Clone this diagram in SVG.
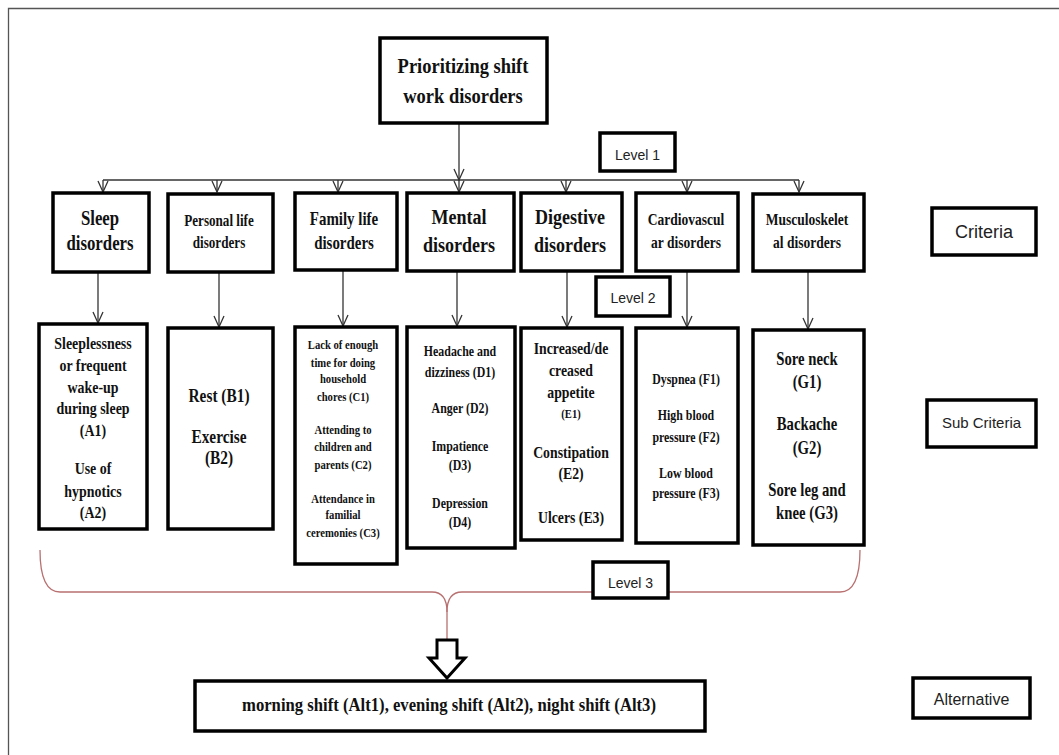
<svg xmlns="http://www.w3.org/2000/svg" width="1059" height="755" viewBox="0 0 1059 755">
<style>
.box{fill:#fff;stroke:#000;stroke-width:3.5}
.lbl{fill:#fff;stroke:#000;stroke-width:3.5}
.con{fill:none;stroke:#333;stroke-width:1.3}
.brace{fill:none;stroke:#b87070;stroke-width:1.3}
.t{font-family:"Liberation Serif","Times New Roman",serif;font-weight:bold;text-anchor:middle;fill:#111}
.s{font-family:"Liberation Sans",Arial,sans-serif;text-anchor:middle;fill:#222}
</style>
<defs>
<marker id="v" markerUnits="userSpaceOnUse" markerWidth="14" markerHeight="14" viewBox="-12 -7 14 14" refX="0" refY="0" orient="auto">
<path d="M-11,-5 L0,0 L-11,5" fill="none" stroke="#333" stroke-width="1.3"/>
</marker>
</defs>
<rect width="1059" height="755" fill="#fff"/>
<path d="M8.5,755 V8.5 H1059" fill="none" stroke="#555" stroke-width="1.3"/>

<g id="connectors">
<line class="con" x1="459" y1="123" x2="459" y2="180" marker-end="url(#v)"/>
<line class="con" x1="103" y1="180" x2="799" y2="180"/>
<line class="con" x1="103" y1="180" x2="103" y2="192" marker-end="url(#v)"/>
<line class="con" x1="217" y1="180" x2="217" y2="192" marker-end="url(#v)"/>
<line class="con" x1="338" y1="180" x2="338" y2="192" marker-end="url(#v)"/>
<line class="con" x1="459" y1="180" x2="459" y2="192" marker-end="url(#v)"/>
<line class="con" x1="566" y1="180" x2="566" y2="192" marker-end="url(#v)"/>
<line class="con" x1="687" y1="180" x2="687" y2="192" marker-end="url(#v)"/>
<line class="con" x1="799" y1="180" x2="799" y2="192" marker-end="url(#v)"/>
<line class="con" x1="98" y1="272" x2="98" y2="323" marker-end="url(#v)"/>
<line class="con" x1="219" y1="272" x2="219" y2="327" marker-end="url(#v)"/>
<line class="con" x1="343" y1="271" x2="343" y2="326" marker-end="url(#v)"/>
<line class="con" x1="457" y1="271" x2="457" y2="326" marker-end="url(#v)"/>
<line class="con" x1="567" y1="271" x2="567" y2="327" marker-end="url(#v)"/>
<line class="con" x1="687" y1="271" x2="687" y2="327" marker-end="url(#v)"/>
<line class="con" x1="808" y1="271" x2="808" y2="329" marker-end="url(#v)"/>
<path class="brace" d="M40,550 Q40,592 60,592 H432 Q447,592 447,612 V642"/>
<path class="brace" d="M860,550 Q860,592 840,592 H462 Q447,592 447,612"/>
<polygon points="437,640 457,640 457,658 465,658 447,678 429,658 437,658" fill="#fff" stroke="#000" stroke-width="3"/>
</g>

<g id="goal">
<rect class="box" x="380" y="38" width="167" height="85"/>
<g transform="translate(463 0) scale(0.88 1)">
<text class="t" x="0" y="73" font-size="21">Prioritizing shift</text>
<text class="t" x="0" y="103" font-size="21">work disorders</text>
</g>
</g>

<g id="level1"><rect class="lbl" x="600" y="133" width="75" height="38"/><text class="s" x="637.5" y="160" font-size="14">Level 1</text></g>
<g id="level2"><rect class="lbl" x="596" y="277" width="74" height="39"/><text class="s" x="633" y="303" font-size="14">Level 2</text></g>
<g id="criteria-label"><rect class="lbl" x="932" y="208" width="104" height="47"/><text class="s" x="984" y="238" font-size="18">Criteria</text></g>
<g id="subcriteria-label"><rect class="lbl" x="927" y="400" width="109" height="47"/><text class="s" x="981.5" y="428" font-size="15">Sub Criteria</text></g>
<g id="alternative-label"><rect class="lbl" x="913" y="678" width="117" height="40"/><text class="s" x="971.5" y="705" font-size="16">Alternative</text></g>

<g id="sleep">
<rect class="box" x="53" y="193" width="96" height="79"/>
<g transform="translate(100 0) scale(0.84 1)">
<text class="t" x="0" y="225" font-size="20">Sleep</text>
<text class="t" x="0" y="250" font-size="20">disorders</text>
</g>
</g>
<g id="personal">
<rect class="box" x="168" y="194" width="105" height="78"/>
<g transform="translate(219 0) scale(0.82 1)">
<text class="t" x="0" y="226" font-size="16">Personal life</text>
<text class="t" x="0" y="248" font-size="16">disorders</text>
</g>
</g>
<g id="family">
<rect class="box" x="295" y="193" width="102" height="77"/>
<g transform="translate(344 0) scale(0.83 1)">
<text class="t" x="0" y="225" font-size="18">Family life</text>
<text class="t" x="0" y="249" font-size="18">disorders</text>
</g>
</g>
<g id="mental">
<rect class="box" x="407" y="193" width="107" height="78"/>
<g transform="translate(459 0) scale(0.82 1)">
<text class="t" x="0" y="224" font-size="22">Mental</text>
<text class="t" x="0" y="252" font-size="22">disorders</text>
</g>
</g>
<g id="digestive">
<rect class="box" x="521" y="193" width="101" height="78"/>
<g transform="translate(570 0) scale(0.82 1)">
<text class="t" x="0" y="224" font-size="22">Digestive</text>
<text class="t" x="0" y="252" font-size="22">disorders</text>
</g>
</g>
<g id="cardio">
<rect class="box" x="636" y="193" width="102" height="78"/>
<g transform="translate(686 0) scale(0.82 1)">
<text class="t" x="0" y="225" font-size="16.5">Cardiovascul</text>
<text class="t" x="0" y="248" font-size="16.5">ar disorders</text>
</g>
</g>
<g id="musculo">
<rect class="box" x="753" y="194" width="111" height="77"/>
<g transform="translate(807 0) scale(0.82 1)">
<text class="t" x="0" y="225" font-size="16.5">Musculoskelet</text>
<text class="t" x="0" y="248" font-size="16.5">al disorders</text>
</g>
</g>

<g id="sub-sleep">
<rect class="box" x="39" y="324" width="108" height="205"/>
<g transform="translate(93 0) scale(0.82 1)" font-size="17">
<text class="t" x="0" y="349">Sleeplessness</text>
<text class="t" x="0" y="371">or frequent</text>
<text class="t" x="0" y="393">wake-up</text>
<text class="t" x="0" y="414">during sleep</text>
<text class="t" x="0" y="436">(A1)</text>
<text class="t" x="0" y="474">Use of</text>
<text class="t" x="0" y="497">hypnotics</text>
<text class="t" x="0" y="518">(A2)</text>
</g>
</g>
<g id="sub-personal">
<rect class="box" x="168" y="328" width="105" height="201"/>
<g transform="translate(219 0) scale(0.83 1)" font-size="18.5">
<text class="t" x="0" y="402">Rest (B1)</text>
<text class="t" x="0" y="443">Exercise</text>
<text class="t" x="0" y="464">(B2)</text>
</g>
</g>
<g id="sub-family">
<rect class="box" x="295" y="327" width="102" height="237"/>
<g transform="translate(343 0) scale(0.82 1)" font-size="13">
<text class="t" x="0" y="349">Lack of enough</text>
<text class="t" x="0" y="367">time for doing</text>
<text class="t" x="0" y="383">household</text>
<text class="t" x="0" y="401">chores (C1)</text>
<text class="t" x="0" y="434">Attending to</text>
<text class="t" x="0" y="451">children and</text>
<text class="t" x="0" y="469">parents (C2)</text>
<text class="t" x="0" y="503">Attendance in</text>
<text class="t" x="0" y="519">familial</text>
<text class="t" x="0" y="537">ceremonies (C3)</text>
</g>
</g>
<g id="sub-mental">
<rect class="box" x="407" y="327" width="108" height="221"/>
<g transform="translate(460 0) scale(0.82 1)" font-size="14.5">
<text class="t" x="0" y="356">Headache and</text>
<text class="t" x="0" y="377">dizziness (D1)</text>
<text class="t" x="0" y="413">Anger (D2)</text>
<text class="t" x="0" y="451">Impatience</text>
<text class="t" x="0" y="470">(D3)</text>
<text class="t" x="0" y="508">Depression</text>
<text class="t" x="0" y="527">(D4)</text>
</g>
</g>
<g id="sub-digestive">
<rect class="box" x="521" y="328" width="101" height="212"/>
<g transform="translate(571 0) scale(0.81 1)" font-size="17">
<text class="t" x="0" y="354">Increased/de</text>
<text class="t" x="0" y="376">creased</text>
<text class="t" x="0" y="398">appetite</text>
<text class="t" x="0" y="418" font-size="13">(E1)</text>
<text class="t" x="0" y="458">Constipation</text>
<text class="t" x="0" y="479">(E2)</text>
<text class="t" x="0" y="523">Ulcers (E3)</text>
</g>
</g>
<g id="sub-cardio">
<rect class="box" x="636" y="328" width="102" height="215"/>
<g transform="translate(686 0) scale(0.82 1)" font-size="14.5">
<text class="t" x="0" y="384">Dyspnea (F1)</text>
<text class="t" x="0" y="420">High blood</text>
<text class="t" x="0" y="442">pressure (F2)</text>
<text class="t" x="0" y="478">Low blood</text>
<text class="t" x="0" y="498">pressure (F3)</text>
</g>
</g>
<g id="sub-musculo">
<rect class="box" x="753" y="330" width="111" height="215"/>
<g transform="translate(807 0) scale(0.82 1)" font-size="18">
<text class="t" x="0" y="365">Sore neck</text>
<text class="t" x="0" y="388">(G1)</text>
<text class="t" x="0" y="430">Backache</text>
<text class="t" x="0" y="454">(G2)</text>
<text class="t" x="0" y="496">Sore leg and</text>
<text class="t" x="0" y="519">knee (G3)</text>
</g>
</g>

<g id="level3"><rect class="lbl" x="593" y="562" width="75" height="36"/><text class="s" x="630.5" y="588" font-size="14">Level 3</text></g>

<g id="alternatives">
<rect class="box" x="195" y="681" width="510" height="50"/>
<text class="t" x="449" y="711" font-size="19" textLength="414" lengthAdjust="spacingAndGlyphs">morning shift (Alt1), evening shift (Alt2), night shift (Alt3)</text>
</g>
</svg>
